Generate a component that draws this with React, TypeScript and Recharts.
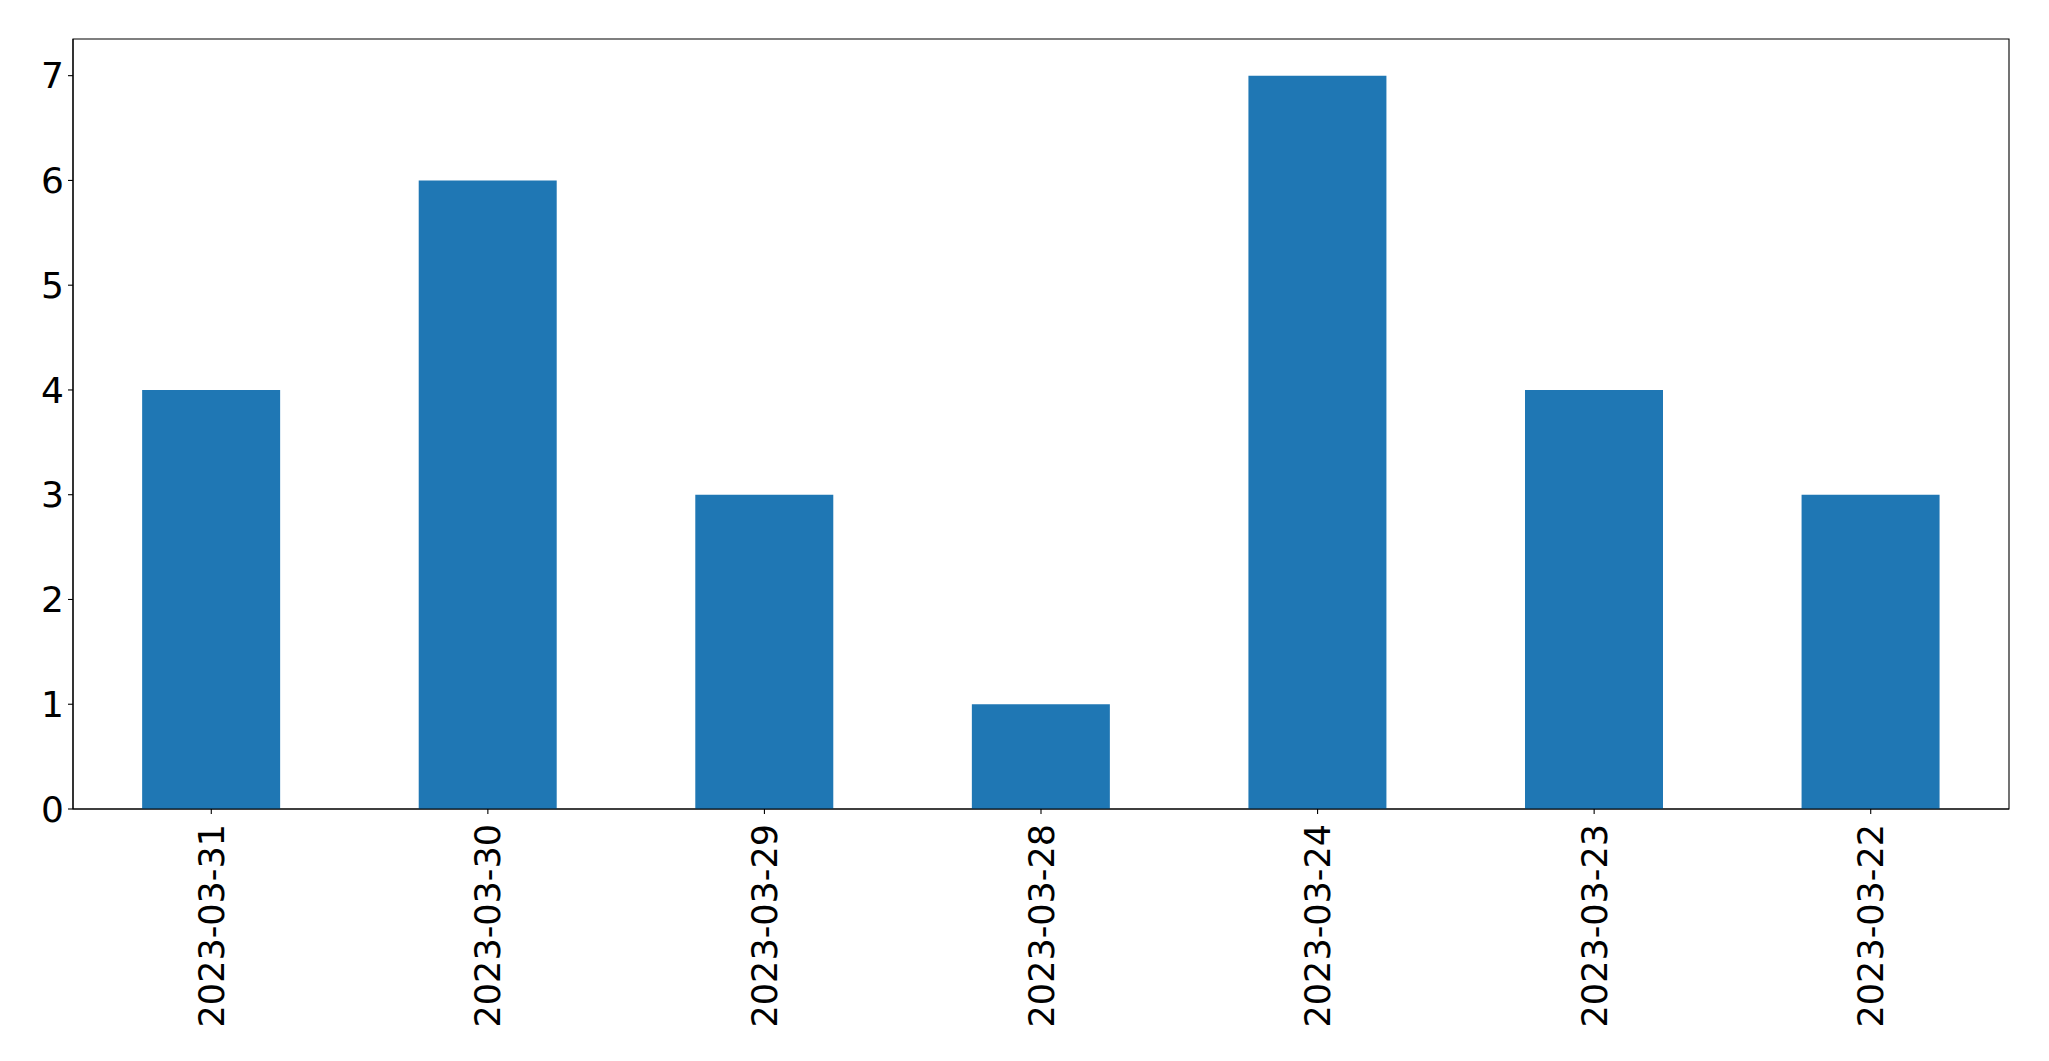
import React from "react";
import { BarChart, Bar, XAxis, YAxis, ReferenceArea } from "recharts";

const dates = ["2023-03-31", "2023-03-30", "2023-03-29", "2023-03-28", "2023-03-24", "2023-03-23", "2023-03-22"];
const counts = [4, 6, 3, 1, 7, 4, 3];
const yTicks = [0, 1, 2, 3, 4, 5, 6, 7];
const yMax = 7.35;

const data = dates.map((d, i) => ({ date: d, count: counts[i] }));

const FONT = "DejaVu Sans";
const FS_Y = 36;
const FS_X = 35;

const XTick = (props: any) => {
  const { x, y, payload } = props;
  return (
    <text
      x={x}
      y={y}
      dy="0.36em"
      transform={`rotate(-90, ${x}, ${y})`}
      textAnchor="end"
      fontFamily={FONT}
      fontSize={FS_X}
      fill="#000"
    >
      {payload.value}
    </text>
  );
};

export default function App() {
  return (
    <div style={{ position: "absolute", left: 0, top: 0, background: "#fff" }}>
      <BarChart
        width={2049}
        height={1061}
        data={data}
        margin={{ top: 39, right: 40, bottom: 0, left: 0 }}
        barCategoryGap="25%"
      >
        <XAxis
          dataKey="date"
          height={252}
          axisLine={{ stroke: "#000", strokeWidth: 1.1 }}
          tickLine={{ stroke: "#000", strokeWidth: 1.1 }}
          tickSize={5}
          tickMargin={10}
          interval={0}
          tick={<XTick />}
        />
        <YAxis
          width={73}
          domain={[0, yMax]}
          ticks={yTicks}
          interval={0}
          axisLine={{ stroke: "#000", strokeWidth: 1.1 }}
          tickLine={{ stroke: "#000", strokeWidth: 1.1 }}
          tickSize={5}
          tickMargin={4}
          tick={{ fontFamily: FONT, fontSize: FS_Y, fill: "#000" }}
        />
        <Bar dataKey="count" fill="#1f77b4" isAnimationActive={false} />
        <ReferenceArea
          y1={0}
          y2={yMax}
          fill="none"
          fillOpacity={0}
          stroke="#000"
          strokeWidth={1.1}
          strokeOpacity={1}
          ifOverflow="visible"
        />
      </BarChart>
    </div>
  );
}
